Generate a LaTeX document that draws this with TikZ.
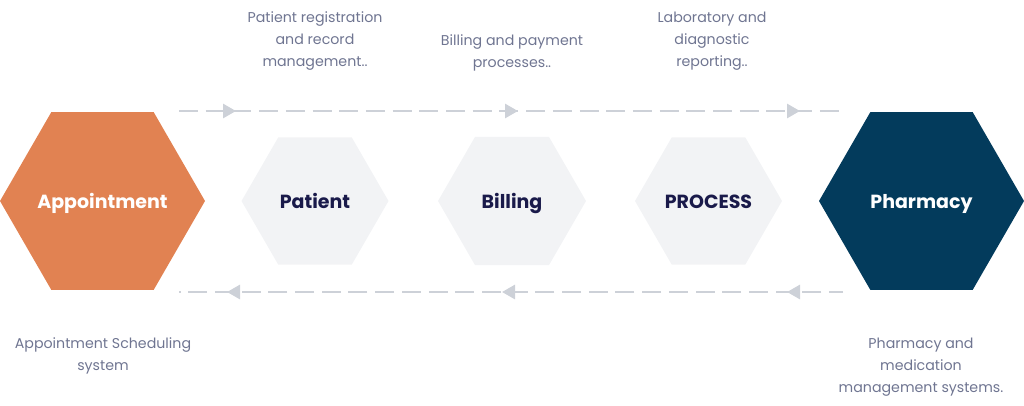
\documentclass[tikz,border=0pt]{standalone}
\usepackage{fontspec}
\setmainfont{Poppins}
\usetikzlibrary{arrows.meta,decorations.markings}
\definecolor{orangehex}{HTML}{E18252}
\definecolor{navyhex}{HTML}{033B5C}
\definecolor{greyhex}{HTML}{F2F3F5}
\definecolor{dashgrey}{HTML}{CDD1D8}
\definecolor{labelgrey}{HTML}{6F7591}
\definecolor{hextext}{HTML}{1A1A4A}
\newcommand{\hexpath}[3]{% center x, center y, half width
  (#1-#3,#2) -- ++(0.5*#3,-0.866*#3) -- ++(#3,0) -- ++(0.5*#3,0.866*#3)
  -- ++(-0.5*#3,0.866*#3) -- ++(-#3,0) -- cycle}
\tikzset{
  hexlabel/.style={inner sep=0pt, anchor=base, font=\fontsize{19}{22}\selectfont\bfseries},
  desc/.style={align=center, text=labelgrey, font=\fontsize{14.2}{22}\selectfont, inner sep=0pt},
  dashline/.style={draw=dashgrey, line width=2.8pt, dash pattern=on 19pt off 7.7pt},
}
\begin{document}
\begin{tikzpicture}[x=1pt,y=-1pt]
\useasboundingbox (0,0) rectangle (1024,405);
% hexagons
\fill[orangehex] \hexpath{102.5}{201}{102.5};
\fill[greyhex] \hexpath{315}{201}{73.5};
\fill[greyhex] \hexpath{512}{201}{74};
\fill[greyhex] \hexpath{708.5}{201}{73.5};
\fill[navyhex] \hexpath{921.5}{201}{102.5};
\node[hexlabel, text=white] (appt) at (102.5,208) {Appointment};
\node[hexlabel, text=hextext] (patient) at (315,208) {Patient};
\node[hexlabel, text=hextext] (billing) at (512,208) {Billing};
\node[hexlabel, text=hextext] (process) at (708.5,208) {PROCESS};
\node[hexlabel, text=white] (pharm) at (921.5,208) {Pharmacy};
% connector ends
\coordinate (ts) at (179,111);
\coordinate (te) at (843,111);
\coordinate (bs) at (843,292);
\coordinate (be) at (179,292);
% top dashed line with forward arrows
\draw[dashline, postaction={decorate}, decoration={markings,
  mark=at position 57pt with {\arrow[dashgrey]{Triangle[length=13pt,width=14pt]}},
  mark=at position 339pt with {\arrow[dashgrey]{Triangle[length=13pt,width=14pt]}},
  mark=at position 621pt with {\arrow[dashgrey]{Triangle[length=13pt,width=14pt]}}}]
  (ts) -- (te);
% bottom dashed line with backward arrows
\draw[dashline, dash phase=5pt, postaction={decorate}, decoration={markings,
  mark=at position 56pt with {\arrow[dashgrey]{Triangle[length=13pt,width=14pt]}},
  mark=at position 341pt with {\arrow[dashgrey]{Triangle[length=13pt,width=14pt]}},
  mark=at position 616pt with {\arrow[dashgrey]{Triangle[length=13pt,width=14pt]}}}]
  (bs) -- (be);
% descriptions
\node[desc] (dpatient) at (315,41) {Patient registration\\and record\\management..};
\node[desc] (dbilling) at (512,53) {Billing and payment\\processes..};
\node[desc] (dlab) at (712,41) {Laboratory and\\diagnostic\\reporting..};
\node[desc] (dappt) at (103,356) {Appointment Scheduling\\system};
\node[desc] (dpharm) at (921,367) {Pharmacy and\\medication\\management systems.};
\end{tikzpicture}
\end{document}
